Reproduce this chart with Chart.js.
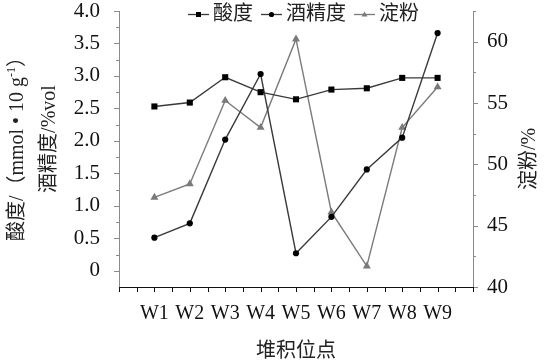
<!DOCTYPE html>
<html>
<head>
<meta charset="utf-8">
<script src="https://cdn.jsdelivr.net/npm/chart.js@4/dist/chart.umd.min.js"></script>
<style>
html,body{margin:0;padding:0;background:#fff;}
#wrap{width:545px;height:363px;position:relative;}
</style>
</head>
<body>
<div id="wrap"><canvas id="c" width="545" height="363"></canvas></div>
<script>
// ---- data ----
const categories = ['W1','W2','W3','W4','W5','W6','W7','W8','W9'];
const acidity = [2.53, 2.59, 2.98, 2.75, 2.64, 2.79, 2.81, 2.97, 2.97];   // 酸度
const alcohol = [0.51, 0.73, 2.02, 3.03, 0.27, 0.83, 1.56, 2.05, 3.66];   // 酒精度
const starch  = [47.3, 48.4, 55.2, 53.0, 60.2, 46.1, 41.7, 53.0, 56.3];   // 淀粉
const seriesNames = ['酸度', '酒精度', '淀粉'];
const leftTickLabels = ['0','0.5','1.0','1.5','2.0','2.5','3.0','3.5','4.0'];
const rightTickLabels = ['40','45','50','55','60'];
const xTitle = '堆积位点';
const rightTitle = '淀粉/%';

const SERIF = '"Liberation Serif", "Noto Sans CJK SC", serif';
const toXY = arr => arr.map((v, i) => ({x: i + 1, y: v}));

const DARK = '#3a3a3a';
const GREY = '#7a7a7a';
const AXIS_GREY = '#8a8a8a';

const noPad = s => { s.paddingTop = 0; s.paddingBottom = 0; s.paddingLeft = 0; s.paddingRight = 0; };

const axesPlugin = {
  id: 'customAxes',
  afterDraw(chart) {
    const ctx = chart.ctx;
    const xs = chart.scales.x, yl = chart.scales.y, yr = chart.scales.y1;
    const a = chart.chartArea;
    ctx.save();
    ctx.lineWidth = 1;
    // left axis
    ctx.strokeStyle = AXIS_GREY;
    ctx.beginPath();
    ctx.moveTo(a.left + 0.5, a.top); ctx.lineTo(a.left + 0.5, a.bottom);
    yl.ticks.forEach(t => {
      const y = Math.round(yl.getPixelForValue(t.value)) + 0.5;
      const major = Math.abs(t.value * 2 - Math.round(t.value * 2)) < 1e-6;
      if (t.value < -0.01) return;
      ctx.moveTo(a.left + 0.5, y); ctx.lineTo(a.left - (major ? 5 : 3), y);
    });
    ctx.stroke();
    // right axis
    ctx.beginPath();
    ctx.moveTo(a.right + 0.5, a.top); ctx.lineTo(a.right + 0.5, a.bottom);
    yr.ticks.forEach(t => {
      const y = Math.round(yr.getPixelForValue(t.value)) + 0.5;
      const major = Math.abs(t.value / 5 - Math.round(t.value / 5)) < 1e-6;
      ctx.moveTo(a.right + 0.5, y); ctx.lineTo(a.right + (major ? 5 : 3), y);
    });
    ctx.stroke();
    // x axis
    ctx.strokeStyle = '#111';
    ctx.beginPath();
    ctx.moveTo(a.left, a.bottom + 0.5); ctx.lineTo(a.right + 1, a.bottom + 0.5);
    xs.ticks.forEach(t => {
      const x = Math.round(xs.getPixelForValue(t.value)) + 0.5;
      ctx.moveTo(x, a.bottom); ctx.lineTo(x, a.bottom + 5);
    });
    ctx.stroke();

    // titles
    ctx.fillStyle = '#222';
    ctx.textBaseline = 'middle';
    ctx.font = '20px ' + SERIF;
    ctx.textAlign = 'center';
    ctx.fillText(xTitle, (a.left + a.right) / 2, 352);
    ctx.save();
    ctx.translate(530, 159);
    ctx.rotate(-Math.PI / 2);
    ctx.fillText(rightTitle, 0, 0);
    ctx.restore();
    ctx.save();
    ctx.translate(50, 139);
    ctx.rotate(-Math.PI / 2);
    ctx.fillText('酒精度/%vol', 0, 0);
    ctx.restore();
    ctx.save();
    ctx.translate(18, 144);
    ctx.rotate(-Math.PI / 2);
    const p1 = '酸度/（mmol • 10 g', sup = '-1', p2 = '）';
    ctx.font = '20px ' + SERIF;
    const w1 = ctx.measureText(p1).width, w3 = ctx.measureText(p2).width;
    ctx.font = '12px ' + SERIF;
    const w2 = ctx.measureText(sup).width;
    let x0 = -(w1 + w2 + w3) / 2;
    ctx.textAlign = 'left';
    ctx.font = '20px ' + SERIF;
    ctx.fillText(p1, x0, 0);
    ctx.font = '12px ' + SERIF;
    ctx.fillText(sup, x0 + w1, -6);
    ctx.font = '20px ' + SERIF;
    ctx.fillText(p2, x0 + w1 + w2, 0);
    ctx.restore();

    // legend
    const ly = 14;
    let lx = 188;
    const styles = [
      {c: DARK, m: '#000', s: 'rect'},
      {c: DARK, m: '#000', s: 'circle'},
      {c: GREY, m: GREY, s: 'tri'}
    ];
    ctx.font = '20px ' + SERIF;
    ctx.textAlign = 'left';
    styles.forEach((st, i) => {
      ctx.strokeStyle = st.c; ctx.lineWidth = 1.3;
      ctx.beginPath(); ctx.moveTo(lx, ly + 0.5); ctx.lineTo(lx + 21, ly + 0.5); ctx.stroke();
      const cx = lx + 10.5;
      ctx.fillStyle = st.m;
      ctx.beginPath();
      if (st.s === 'rect') ctx.rect(cx - 2.5, ly - 2, 5, 5);
      else if (st.s === 'circle') ctx.arc(cx, ly + 0.5, 2.6, 0, Math.PI * 2);
      else { ctx.moveTo(cx, ly - 2.5); ctx.lineTo(cx + 3, ly + 2.5); ctx.lineTo(cx - 3, ly + 2.5); ctx.closePath(); }
      ctx.fill();
      ctx.fillStyle = '#222';
      ctx.fillText(seriesNames[i], lx + 25, ly + 1);
      lx += 25 + ctx.measureText(seriesNames[i]).width + 8;
    });
    ctx.restore();
  }
};

new Chart(document.getElementById('c'), {
  type: 'line',
  data: {
    datasets: [
      {label: seriesNames[0], data: toXY(acidity), yAxisID: 'y', borderColor: DARK, backgroundColor: '#000',
       pointStyle: 'rect', pointRadius: 4.3, pointBorderWidth: 0, borderWidth: 1.4, pointBackgroundColor: '#000'},
      {label: seriesNames[1], data: toXY(alcohol), yAxisID: 'y', borderColor: DARK, backgroundColor: '#000',
       pointStyle: 'circle', pointRadius: 3.1, pointBorderWidth: 0, borderWidth: 1.4, pointBackgroundColor: '#000'},
      {label: seriesNames[2], data: toXY(starch), yAxisID: 'y1', borderColor: GREY, backgroundColor: GREY,
       pointStyle: 'triangle', pointRadius: 4.6, pointBorderWidth: 0, borderWidth: 1.4, pointBackgroundColor: GREY}
    ]
  },
  options: {
    responsive: false,
    animation: false,
    layout: {padding: {top: 11, left: 0, right: 0, bottom: 0}},
    plugins: {legend: {display: false}, tooltip: {enabled: false}},
    elements: {line: {tension: 0}},
    scales: {
      x: {
        type: 'linear', min: 0, max: 10,
        grid: {display: false, drawTicks: false}, border: {display: false},
        ticks: {stepSize: 0.5, autoSkip: false, maxRotation: 0, maxTicksLimit: 100, padding: 15,
                color: '#111', font: {family: SERIF, size: 20},
                callback: v => (Number.isInteger(v) && v >= 1 && v <= categories.length) ? categories[v - 1] : ''},
        afterFit: s => { s.height = 76; noPad(s); }
      },
      y: {
        position: 'left', min: -0.25, max: 4.0,
        grid: {display: false, drawTicks: false}, border: {display: false},
        ticks: {stepSize: 0.25, autoSkip: false, maxTicksLimit: 100, padding: 19, color: '#111',
                font: {family: SERIF, size: 21},
                callback: v => {
                  if (v < 0) return '';
                  const k = Math.round(v * 2);
                  if (Math.abs(v * 2 - k) > 1e-6) return '';
                  return leftTickLabels[k] ?? '';
                }},
        afterFit: s => { s.width = 119; noPad(s); }
      },
      y1: {
        position: 'right', min: 40, max: 62.5,
        grid: {display: false, drawTicks: false}, border: {display: false},
        ticks: {stepSize: 2.5, autoSkip: false, maxTicksLimit: 100, padding: 14, color: '#111',
                font: {family: SERIF, size: 21},
                callback: v => {
                  const k = Math.round((v - 40) / 5);
                  if (Math.abs((v - 40) / 5 - k) > 1e-6) return '';
                  return rightTickLabels[k] ?? '';
                }},
        afterFit: s => { s.width = 72; noPad(s); }
      }
    }
  },
  plugins: [axesPlugin]
});
</script>
</body>
</html>
